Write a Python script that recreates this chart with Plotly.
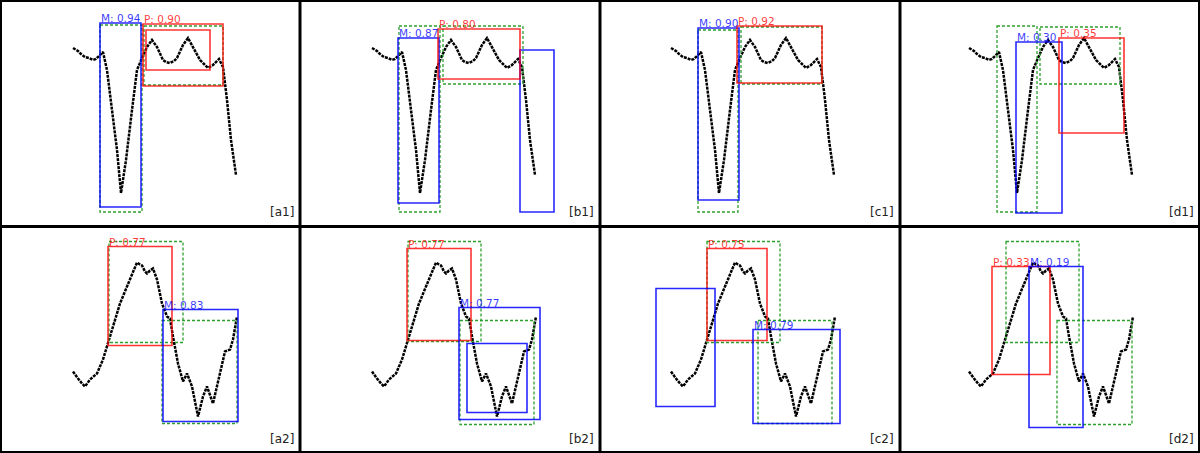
import plotly.graph_objects as go

# ---------------- data (panel-local pixel-like coordinates, y grows downward) ----------------
# Row 1 series (same series shown in a1..d1)
row1_x = [73, 76, 78, 81, 85, 89, 93, 96, 98, 101, 103, 107, 112, 117, 121, 126, 132, 137, 142, 147, 152, 157, 163,
          166, 170, 174, 177, 183, 188, 192, 196, 200, 204, 208, 213, 219, 223, 227, 231, 236]
row1_y = [48, 50, 51, 54, 57, 58, 60, 59, 57, 55, 52, 70, 110, 150, 193, 160, 110, 70, 58, 47, 40, 47, 60,
          62, 63, 61, 58, 45, 38, 45, 53, 60, 64, 68, 65, 59, 67, 100, 140, 175]

# Row 2 series (same series shown in a2..d2)
row2_x = [73, 76, 78, 82, 85, 90, 97, 103, 108, 113, 120, 127, 132, 137, 140, 142, 145, 147, 150, 153, 157, 162, 167,
          170, 173, 178, 183, 187, 192, 198, 203, 207, 213, 220, 225, 230, 233, 237]
row2_y = [145, 150, 152, 157, 160, 153, 147, 133, 117, 100, 77, 60, 48, 36, 38, 39, 45, 47, 44, 42, 53, 77, 90,
          92, 110, 137, 155, 147, 160, 190, 170, 160, 177, 147, 125, 123, 113, 90]

panel_tags = ["[a1]", "[b1]", "[c1]", "[d1]", "[a2]", "[b2]", "[c2]", "[d2]"]

# boxes: (kind, x0, y0, x1, y1, label)   kind: G = ground truth, M = method M, P = method P
boxes_a1 = [("G", 100, 25, 142, 212, ""), ("G", 144, 26, 223, 85, ""),
            ("M", 100, 23, 141, 207, "M: 0.94"), ("P", 143, 24, 223, 86, "P: 0.90"),
            ("P", 146, 30, 210, 70, "")]
boxes_b1 = [("G", 99, 26, 140, 212, ""), ("G", 143, 26, 223, 84, ""),
            ("M", 98, 38, 139, 203, "M: 0.87"), ("M", 220, 50, 254, 212, ""),
            ("P", 138, 29, 220, 79, "P: 0.80")]
boxes_c1 = [("G", 98, 30, 138, 212, ""), ("G", 141, 27, 222, 84, ""),
            ("M", 98, 28, 139, 200, "M: 0.90"), ("P", 137, 26, 222, 83, "P: 0.92")]
boxes_d1 = [("G", 97, 26, 137, 212, ""), ("G", 140, 27, 220, 84, ""),
            ("M", 116, 42, 162, 213, "M: 0.30"), ("P", 159, 38, 224, 133, "P: 0.35")]
boxes_a2 = [("G", 109, 15, 183, 116, ""), ("G", 162, 94, 237, 197, ""),
            ("P", 108, 20, 172, 119, "P: 0.77"), ("M", 163, 83, 238, 195, "M: 0.83")]
boxes_b2 = [("G", 108, 15, 181, 115, ""), ("G", 160, 94, 234, 198, ""),
            ("P", 107, 22, 171, 114, "P: 0.77"), ("M", 159, 81, 240, 193, "M: 0.77"),
            ("M", 167, 117, 227, 186, "")]
boxes_c2 = [("G", 107, 15, 180, 116, ""), ("G", 158, 94, 232, 197, ""),
            ("P", 107, 22, 167, 114, "P: 0.75"), ("M", 56, 62, 115, 180, ""),
            ("M", 153, 103, 240, 197, "M: 0.79")]
boxes_d2 = [("G", 106, 15, 179, 116, ""), ("G", 157, 94, 232, 198, ""),
            ("P", 92, 40, 150, 148, "P: 0.33"), ("M", 129, 40, 183, 201, "M: 0.19")]

all_boxes = [boxes_a1, boxes_b1, boxes_c1, boxes_d1, boxes_a2, boxes_b2, boxes_c2, boxes_d2]

# ---------------- style ----------------
W, H = 1200, 453
COLORS = {"G": "#2ca02c", "M": "rgba(0,0,255,0.85)", "P": "rgba(255,0,0,0.8)"}
TEXTC = {"M": "rgba(20,20,255,0.85)", "P": "rgba(255,20,20,0.85)"}
col_shift = [0, -1, -2, -4]

fig = go.Figure()
layout = dict(width=W, height=H, margin=dict(l=0, r=0, t=0, b=0),
              paper_bgcolor="white", plot_bgcolor="white", showlegend=False)
shapes = []
annotations = []

for i in range(8):
    r, c = divmod(i, 4)
    n = i + 1
    xa = "xaxis" if n == 1 else f"xaxis{n}"
    ya = "yaxis" if n == 1 else f"yaxis{n}"
    xref = "x" if n == 1 else f"x{n}"
    yref = "y" if n == 1 else f"y{n}"
    x0d, x1d = c * 0.25, (c + 1) * 0.25
    y1d = 1 - r * 0.5
    y0d = y1d - 0.5
    layout[xa] = dict(domain=[x0d, x1d], range=[0, 300], visible=False, fixedrange=True)
    layout[ya] = dict(domain=[y0d, y1d], range=[226.5, 0], visible=False, fixedrange=True)

    sx, sy = (row1_x, row1_y) if r == 0 else (row2_x, row2_y)
    fig.add_trace(go.Scatter(x=[v + col_shift[c] for v in sx], y=sy, mode="lines",
                             line=dict(color="black", width=2.5, dash="3px,1px"),
                             xaxis=xref, yaxis=yref, hoverinfo="skip"))

    for kind, bx0, by0, bx1, by1, lab in all_boxes[i]:
        shapes.append(dict(type="rect", xref=xref, yref=yref, x0=bx0, y0=by0, x1=bx1, y1=by1,
                           line=dict(color=COLORS[kind], width=1.3 if kind == "G" else 1.6,
                                     dash="3px,2px" if kind == "G" else "solid"),
                           fillcolor="rgba(0,0,0,0)"))
        if lab:
            annotations.append(dict(x=bx0, y=by0, xref=xref, yref=yref, text=lab,
                                    showarrow=False, xanchor="left", yanchor="bottom",
                                    borderpad=0, yshift=-2,
                                    font=dict(family="DejaVu Sans", size=10.5, color=TEXTC[kind])))

    annotations.append(dict(x=296, y=212, xref=xref, yref=yref, text=panel_tags[i],
                            showarrow=False, xanchor="right", yanchor="middle",
                            font=dict(family="DejaVu Sans", size=12, color="#222222")))

# panel borders
shapes.append(dict(type="rect", xref="paper", yref="paper", x0=0, y0=0, x1=1, y1=1,
                   line=dict(color="black", width=4)))
for c in (1, 2, 3):
    shapes.append(dict(type="line", xref="paper", yref="paper", x0=c * 0.25, x1=c * 0.25,
                       y0=0, y1=1, line=dict(color="black", width=3)))
shapes.append(dict(type="line", xref="paper", yref="paper", x0=0, x1=1, y0=0.5, y1=0.5,
                   line=dict(color="black", width=3)))

layout["shapes"] = shapes
layout["annotations"] = annotations
fig.update_layout(**layout)
fig.write_html("out.html", config={"displayModeBar": False},
               post_script="document.body.style.margin='0';document.body.style.overflow='hidden';")
